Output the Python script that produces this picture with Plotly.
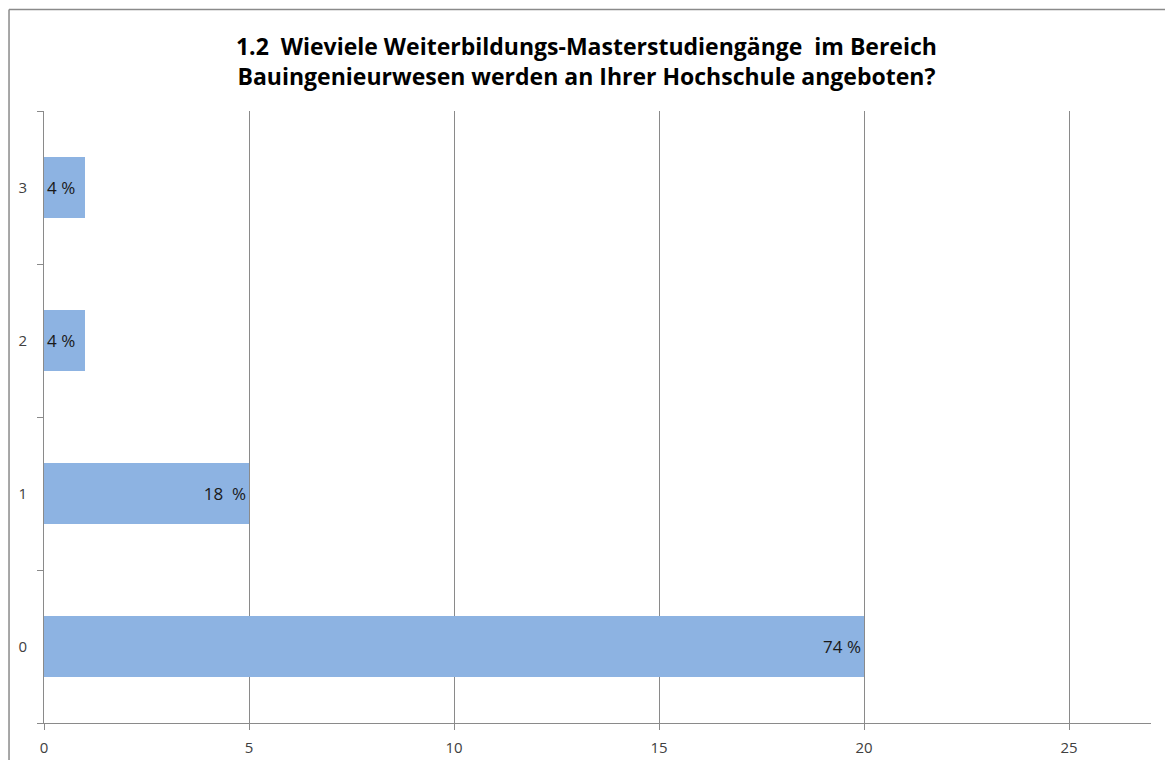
import plotly.graph_objects as go

categories = ["0", "1", "2", "3"]
counts = [20, 5, 1, 1]
labels = ["74 %", "18  %", "4 %", "4 %"]
x_ticks = [0, 5, 10, 15, 20, 25]

title = ("<b>1.2  Wieviele Weiterbildungs-Masterstudiengänge  im Bereich<br>"
         "Bauingenieurwesen werden an Ihrer Hochschule angeboten?</b>")

big = [i for i, c in enumerate(counts) if c > 2]
small = [i for i, c in enumerate(counts) if c <= 2]

fig = go.Figure()
for idx, anchor in [(big, "end"), (small, "start")]:
    fig.add_trace(
        go.Bar(
            y=[categories[i] for i in idx],
            x=[counts[i] for i in idx],
            orientation="h",
            text=[labels[i] for i in idx],
            textposition="inside",
            insidetextanchor=anchor,
            textfont=dict(family="Open Sans, sans-serif", size=17, color="#1a1a1a"),
            marker=dict(color="#8db3e2", line=dict(width=0)),
            width=0.4,
            hoverinfo="skip",
        )
    )

fig.update_layout(
    width=1165,
    height=752,
    paper_bgcolor="white",
    plot_bgcolor="white",
    margin=dict(l=36, r=22, t=103, b=37),
    barmode="overlay",
    showlegend=False,
    font=dict(family="Open Sans, sans-serif", color="#404040"),
    title=dict(
        text=title,
        x=0.49,
        xref="paper",
        xanchor="center",
        y=0.937,
        yanchor="middle",
        font=dict(family="Open Sans, sans-serif", size=23, color="#000000"),
    ),
    xaxis=dict(
        range=[0, 27],
        tickvals=x_ticks,
        automargin=False,
        showgrid=True,
        gridcolor="#8a8a8a",
        gridwidth=1,
        zeroline=False,
        showline=True,
        linecolor="#8a8a8a",
        ticks="outside",
        ticklen=6,
        tickcolor="#8a8a8a",
        ticklabelstandoff=5,
        tickfont=dict(size=15, color="#404040"),
    ),
    yaxis=dict(
        type="category",
        categoryorder="array",
        categoryarray=categories,
        automargin=False,
        showgrid=False,
        zeroline=False,
        showline=True,
        linecolor="#8a8a8a",
        ticks="outside",
        tickson="boundaries",
        ticklen=6,
        tickcolor="#8a8a8a",
        ticklabelstandoff=13,
        tickfont=dict(size=15, color="#404040"),
    ),
    shapes=[
        dict(type="line", xref="paper", yref="paper", x0=-0.0316, x1=1.03,
             y0=1.166, y1=1.166, layer="below",
             line=dict(color="#8a8a8a", width=1.5)),
        dict(type="line", xref="paper", yref="paper", x0=-0.0316, x1=-0.0316,
             y0=1.166, y1=-0.1, layer="below",
             line=dict(color="#8a8a8a", width=1.5)),
    ],
)

fig.write_html("out.html")
